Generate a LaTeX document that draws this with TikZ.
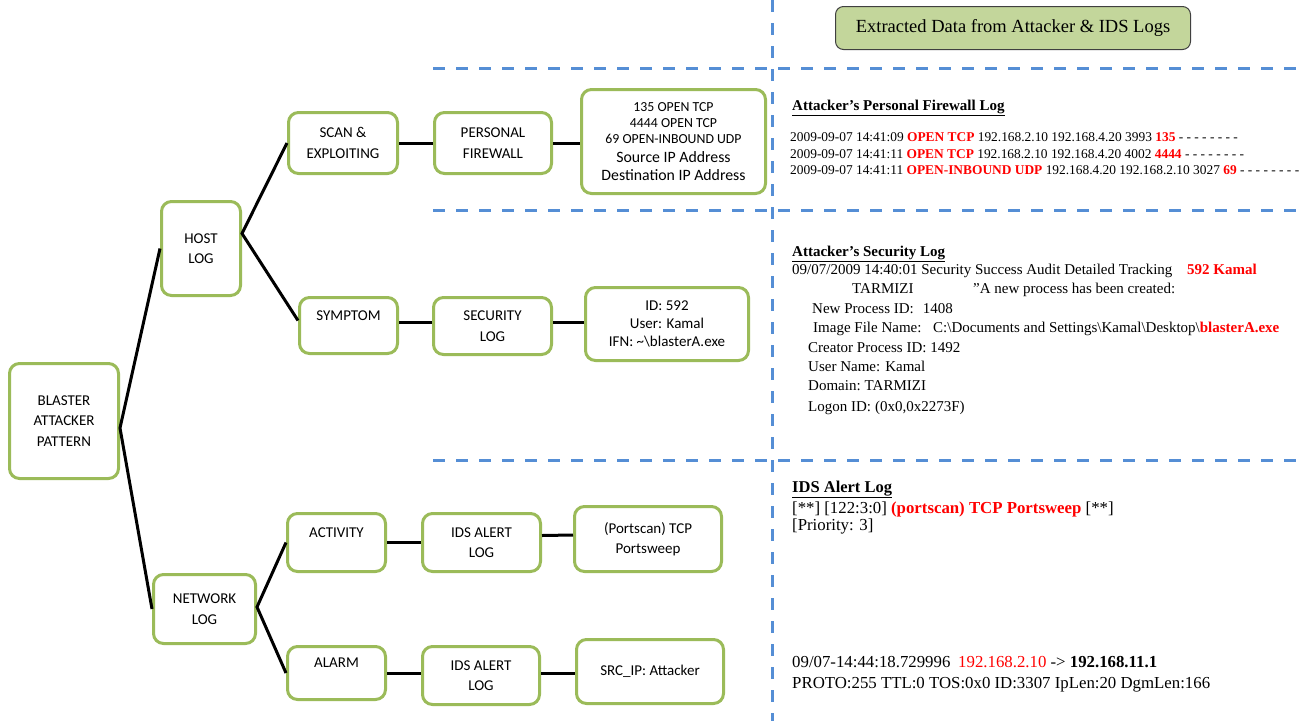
\documentclass[tikz,border=0pt]{standalone}
\usepackage{fontspec}
\setmainfont{Liberation Serif}
\newfontfamily\boxfont{Carlito}
\usetikzlibrary{calc}
\definecolor{boxgreen}{HTML}{9BBB59}
\definecolor{dashblue}{HTML}{558ED5}
\definecolor{hdrfill}{HTML}{C3D69B}
\definecolor{logred}{HTML}{FF0000}
\newcommand\redbf[1]{\textcolor{logred}{\textbf{#1}}}
\newcommand\tightls{\lineskiplimit=-20pt\relax}
\begin{document}
\begin{tikzpicture}[x=1pt,y=-1pt,
  box/.style={draw=boxgreen, line width=3pt, rounded corners=10pt, fill=white, align=center, inner sep=0pt,
    font=\boxfont\fontsize{15}{20.5}\selectfont\tightls},
  smallbox/.style={box, font=\boxfont\fontsize{13.8}{16}\selectfont\tightls},
  link/.style={line width=3pt, black},
  sep/.style={dashblue, line width=3pt, dash pattern=on 12pt off 11pt},
  fwline/.style={anchor=base west, inner sep=0pt, font=\fontsize{13.4}{16}\selectfont},
  secline/.style={anchor=base west, inner sep=0pt, font=\fontsize{15}{19}\selectfont},
  idsline/.style={anchor=base west, inner sep=0pt, font=\fontsize{16.8}{20}\selectfont},
  loghead/.style={anchor=base west, inner sep=0pt, font=\bfseries\fontsize{15}{19}\selectfont},
  idshead/.style={anchor=base west, inner sep=0pt, font=\bfseries\fontsize{16.5}{20}\selectfont},
  hdr/.style={draw=black!75, line width=1pt, fill=hdrfill, rounded corners=8pt, inner sep=0pt,
    minimum width=355pt, minimum height=43pt, font=\fontsize{18.5}{22}\selectfont},
]
\useasboundingbox (0,0) rectangle (1307,721);

% dashed separators
\draw[sep] (772,0) -- (772,721);
\draw[sep] (433,68) -- (1307,68);
\draw[sep] (433,210) -- (1307,210);
\draw[sep] (433,460) -- (1307,460);

% header
\node[hdr] (header) at (1013,28) {Extracted Data from Attacker \& IDS Logs};

% tree boxes
\node[box, minimum width=109pt, minimum height=115pt] (blaster) at (64,421) {BLASTER\\ATTACKER\\PATTERN};
\node[box, minimum width=79pt, minimum height=94pt] (host) at (201,248.5) {HOST\\LOG};
\node[box, minimum width=102pt, minimum height=69pt] (network) at (204.5,609) {NETWORK\\LOG};
\node[box, minimum width=109pt, minimum height=61pt] (scan) at (343,143) {SCAN \&\\EXPLOITING};
\node[box, minimum width=98pt, minimum height=56pt] (symptom) at (348.5,325.5) {SYMPTOM\\\mbox{}};
\node[box, minimum width=117pt, minimum height=61pt] (pf) at (493,143) {PERSONAL\\FIREWALL};
\node[smallbox, minimum width=184pt, minimum height=104pt] (fw) at (673.5,141.5)
  {135 OPEN TCP\\4444 OPEN TCP\\69 OPEN-INBOUND UDP\\[3pt]{\fontsize{15.8}{16}\selectfont Source IP Address}\\[1.5pt]{\fontsize{15.8}{16}\selectfont Destination IP Address}};
\node[box, minimum width=118pt, minimum height=57pt] (sec) at (492.5,326) {SECURITY\\LOG};
\node[box, minimum width=163pt, minimum height=73pt, font=\boxfont\fontsize{15}{18}\selectfont\tightls] (idbox) at (667,324)
  {ID: 592\\User: Kamal\\IFN: \textasciitilde\textbackslash blasterA.exe};
\node[box, minimum width=98pt, minimum height=58pt] (activity) at (336.5,542.5) {ACTIVITY\\\mbox{}};
\node[box, minimum width=118pt, minimum height=58pt] (ids1) at (481.5,542.5) {IDS ALERT\\LOG};
\node[box, minimum width=147pt, minimum height=65pt] (ptsw) at (648,539) {(Portscan) TCP\\Portsweep};
\node[box, minimum width=98pt, minimum height=53pt] (alarm) at (336.5,673) {ALARM\\\mbox{}};
\node[box, minimum width=117pt, minimum height=58pt] (ids2) at (481,675.5) {IDS ALERT\\LOG};
\node[box, minimum width=147pt, minimum height=64pt] (src) at (650,671.5) {SRC\_IP: Attacker};

% connectors
\draw[link] (host.west) -- ([yshift=-7pt]blaster.east) -- (network.west);
\draw[link] (scan.west) -- ([yshift=15pt]host.east) -- ([yshift=5pt]symptom.west);
\draw[link] (activity.west) -- ([yshift=2pt]network.east) -- (alarm.west);
\draw[link] (scan.east) -- (pf.west);
\draw[link] (pf.east) -- (pf.east -| fw.west);
\draw[link] ([yshift=3.5pt]symptom.east) -- ([yshift=4pt]sec.west);
\draw[link] ([yshift=4pt]sec.east) -- ([yshift=2pt]idbox.west);
\draw[link] (activity.east) -- (ids1.west);
\draw[link] ([yshift=7pt]ids1.east) -- ([yshift=4pt]ptsw.west);
\draw[link] (alarm.east) -- ([yshift=2.5pt]ids2.west);
\draw[link] ([yshift=2.5pt]ids2.east) -- ([yshift=-1.5pt]src.west);

% firewall log
\node[loghead] (fwhead) at (792,110) {\underline{Attacker’s Personal Firewall Log}};
\node[fwline] (fw1) at (790,141.5) {2009-09-07 14:41:09 \redbf{OPEN TCP} 192.168.2.10 192.168.4.20 3993 \redbf{135} - - - - - - - -};
\node[fwline] (fw2) at (790,158.5) {2009-09-07 14:41:11 \redbf{OPEN TCP} 192.168.2.10 192.168.4.20 4002 \redbf{4444} - - - - - - - -};
\node[fwline] (fw3) at (790,174.5) {2009-09-07 14:41:11 \redbf{OPEN-INBOUND UDP} 192.168.4.20 192.168.2.10 3027 \redbf{69} - - - - - - - -};

% security log
\node[loghead] (sechead) at (792,256) {\underline{Attacker’s Security Log}};
\node[secline] (sec1) at (792,274) {09/07/2009 14:40:01 Security Success Audit Detailed Tracking};
\node[secline] (sec1b) at (1187,274) {\redbf{592 Kamal}};
\node[secline] (sec2) at (852,293) {TARMIZI};
\node[secline] (sec2b) at (973,293) {"A new process has been created:};
\node[secline] (sec3) at (812,313) {New Process ID:\hspace{9pt}1408};
\node[secline] (sec4) at (813,332) {Image File Name:};
\node[secline] (sec4b) at (933,332) {C:\textbackslash Documents and Settings\textbackslash Kamal\textbackslash Desktop\textbackslash\redbf{blasterA.exe}};
\node[secline] (sec5) at (808,352) {Creator Process ID: 1492};
\node[secline] (sec6) at (808,371) {User Name: Kamal};
\node[secline] (sec7) at (808,390) {Domain:\hspace{4pt}TARMIZI};
\node[secline] (sec8) at (808,411) {Logon ID:\hspace{4pt}(0x0,0x2273F)};

% IDS alert log
\node[idshead] (idshd) at (792,492.5) {\underline{IDS Alert Log}};
\node[idsline] (ids1a) at (792,513) {[**] [122:3:0] \redbf{(portscan) TCP Portsweep} [**]};
\node[idsline] (ids1b) at (792,530) {[Priority: 3]};
\node[idsline] (ids2a) at (792,667.5) {09/07-14:44:18.729996};
\node[idsline] (ids2b) at (958,667.5) {\textcolor{logred}{192.168.2.10} -> \textbf{192.168.11.1}};
\node[idsline] (ids2c) at (792,688.5) {PROTO:255 TTL:0 TOS:0x0 ID:3307 IpLen:20 DgmLen:166};
\end{tikzpicture}
\end{document}
